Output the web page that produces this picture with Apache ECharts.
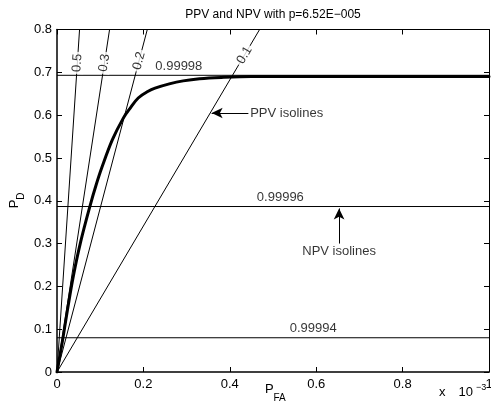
<!DOCTYPE html>
<html><head><meta charset="utf-8">
<script src="https://cdn.jsdelivr.net/npm/echarts@6/dist/echarts.min.js"></script>
<style>html,body{margin:0;padding:0;background:#fff}#c{width:491px;height:412px}</style>
</head><body><div id="c"></div>
<script>
// ---- data (P_FA in units of 1e-3) ----
const titleText = 'PPV and NPV with p=6.52E\u2212005';
const xName = ['P', 'FA'];
const yName = ['P', 'D'];
const xScale = ['x', '10', '\u22123'];
const xTicks = [0, 0.2, 0.4, 0.6, 0.8, 1];
const yTicks = [0, 0.1, 0.2, 0.3, 0.4, 0.5, 0.6, 0.7, 0.8];
const rocPfa = [0, 0.013, 0.025, 0.038, 0.055, 0.077, 0.09, 0.104, 0.128, 0.1535, 0.17, 0.188, 0.21, 0.227, 0.26, 0.292, 0.33, 0.38, 0.45, 0.6, 0.8, 1.0];
const rocPd  = [0, 0.075, 0.15, 0.225, 0.305, 0.39, 0.435, 0.478, 0.542, 0.593, 0.617, 0.640, 0.655, 0.663, 0.673, 0.680, 0.685, 0.688, 0.690, 0.690, 0.690, 0.690];
const ppvLevels = ['0.5', '0.3', '0.2', '0.1'];
const ppvTopPfa = [0.0522, 0.1217, 0.209, 0.469];   // P_FA where each PPV isoline reaches P_D = 0.8
const ppvLabelPd = [0.722, 0.722, 0.727, 0.74];
const npvLevels = ['0.99998', '0.99996', '0.99994'];
const npvPd = [0.693, 0.3865, 0.080];
const npvLabelPfa = [0.282, 0.517, 0.593];
const ppvNoteText = 'PPV isolines';
const ppvArrowFrom = [0.443, 0.605];
const ppvArrowTo = [0.358, 0.605];
const ppvNoteAt = [0.446, 0.605];
const npvNoteText = 'NPV isolines';
const npvArrowFrom = [0.653, 0.300];
const npvArrowTo = [0.653, 0.382];
const npvNoteAt = [0.653, 0.281];

const FONT = '"Liberation Sans", Arial, Helvetica, sans-serif';
const fmt = v => String(+v.toFixed(2));

const baseSeries = [];
// NPV isolines
npvPd.forEach((pd, i) => {
  baseSeries.push({type: 'line', data: [[xTicks[0], pd], [xTicks[xTicks.length - 1], pd]], symbol: 'none', silent: true,
    lineStyle: {color: '#000', width: 1}, z: 2});
});
// PPV isolines
ppvTopPfa.forEach((t, i) => {
  baseSeries.push({type: 'line', data: [[0, 0], [t, 0.8]], symbol: 'none', silent: true,
    lineStyle: {color: '#000', width: 1}, z: 2});
});
// ROC curve
baseSeries.push({type: 'line', data: rocPfa.map((x, i) => [x, rocPd[i]]), symbol: 'none', silent: true,
  smooth: 0.35, sampling: null, lineStyle: {color: '#000', width: 3, join: 'round', cap: 'round'}, z: 3});
// NPV labels
baseSeries.push({type: 'scatter', silent: true, symbolSize: 1, itemStyle: {color: 'rgba(0,0,0,0)'}, z: 6,
  data: npvLabelPfa.map((x, i) => ({value: [x, npvPd[i]], name: npvLevels[i]})),
  label: {show: true, position: 'top', distance: 2, formatter: p => p.name, color: '#000', fontSize: 13, fontFamily: FONT}});
// arrows
baseSeries.push({type: 'line', data: [], silent: true, z: 4,
  markLine: {silent: true, symbol: ['none', 'arrow'], symbolSize: [8, 11], label: {show: false},
    lineStyle: {color: '#000', width: 1, type: 'solid'}, animation: false,
    data: [[{coord: ppvArrowFrom}, {coord: ppvArrowTo}], [{coord: npvArrowFrom}, {coord: npvArrowTo}]]}});
// notes
baseSeries.push({type: 'scatter', silent: true, symbolSize: 1, itemStyle: {color: 'rgba(0,0,0,0)'}, z: 6,
  data: [{value: ppvNoteAt, name: ppvNoteText, label: {position: 'right', distance: 0}},
         {value: npvNoteAt, name: npvNoteText, label: {position: 'inside'}}],
  label: {show: true, formatter: p => p.name, color: '#000', fontSize: 13, fontFamily: FONT}});

const axisCommon = {
  type: 'value', splitLine: {show: false},
  axisTick: {show: true, inside: true, length: 5, lineStyle: {color: '#000', width: 1}},
};
const option = {
  animation: false,
  backgroundColor: '#fff',
  grid: {left: 57, right: 2, top: 29.5, bottom: 40, containLabel: false, outerBoundsMode: 'none'},
  xAxis: [
    Object.assign({}, axisCommon, {position: 'bottom', min: 0, max: 1, interval: 0.2,
      axisLine: {show: true, onZero: false, lineStyle: {color: '#000', width: 1.5}},
      axisLabel: {color: '#000', fontSize: 13, fontFamily: FONT, margin: 6, formatter: fmt}}),
    Object.assign({}, axisCommon, {position: 'top', min: 0, max: 1, interval: 0.2,
      axisLine: {show: true, onZero: false, lineStyle: {color: '#000', width: 1}},
      axisLabel: {show: false}})
  ],
  yAxis: [
    Object.assign({}, axisCommon, {position: 'left', min: 0, max: 0.8, interval: 0.1,
      axisLine: {show: true, onZero: false, lineStyle: {color: '#000', width: 1.5}},
      axisLabel: {color: '#000', fontSize: 13, fontFamily: FONT, margin: 5, formatter: fmt}}),
    Object.assign({}, axisCommon, {position: 'right', min: 0, max: 0.8, interval: 0.1,
      axisLine: {show: true, onZero: false, lineStyle: {color: '#000', width: 1}},
      axisLabel: {show: false}})
  ],
  series: baseSeries
};

const chart = echarts.init(document.getElementById('c'));
chart.setOption(option);
const o = chart.convertToPixel({xAxisIndex: 0, yAxisIndex: 0}, [0, 0]);
const tr = chart.convertToPixel({xAxisIndex: 0, yAxisIndex: 0}, [1, 0.8]);
const cx = (o[0] + tr[0]) / 2, cy = (o[1] + tr[1]) / 2;

const labelSeries = ppvLevels.map((lv, i) => {
  const t = chart.convertToPixel({xAxisIndex: 0, yAxisIndex: 0}, [ppvTopPfa[i], 0.8]);
  const ang = Math.atan2(o[1] - t[1], t[0] - o[0]) * 180 / Math.PI;
  const pd = ppvLabelPd[i];
  return {type: 'scatter', silent: true, symbolSize: 1, itemStyle: {color: 'rgba(0,0,0,0)'}, z: 7,
    data: [{value: [ppvTopPfa[i] * pd / 0.8, pd], name: lv}],
    label: {show: true, position: 'inside', rotate: ang, formatter: p => p.name, color: '#000',
      fontSize: 13, fontFamily: FONT, backgroundColor: '#fff', padding: [0, 2]}};
});

const txt = (text, x, y, size, align, rot) => ({type: 'text', x: x, y: y, rotation: rot || 0, silent: true,
  style: {text: text, fill: '#000', font: size + 'px ' + FONT, textAlign: align, textVerticalAlign: 'middle', align: align, verticalAlign: 'middle'}});

const graphics = [
  txt(titleText, cx, 14.5, 12, 'center'),
  txt(xName[0], cx - 8, o[1] + 17.5, 13, 'left'),
  txt(xName[1], cx + 0.5, o[1] + 26.5, 10, 'left'),
  txt(yName[0], o[0] - 43, cy + 7.5, 13, 'left', Math.PI / 2),
  txt(yName[1], o[0] - 35.5, cy - 1, 10, 'left', Math.PI / 2),
  txt(xScale[0], tr[0] - 50, o[1] + 20, 13, 'left'),
  txt(xScale[1], tr[0] - 16, o[1] + 20, 13, 'right'),
  txt(xScale[2], tr[0] - 13, o[1] + 16, 9, 'left')
];
chart.setOption({series: baseSeries.concat(labelSeries), graphic: graphics});
</script></body></html>
